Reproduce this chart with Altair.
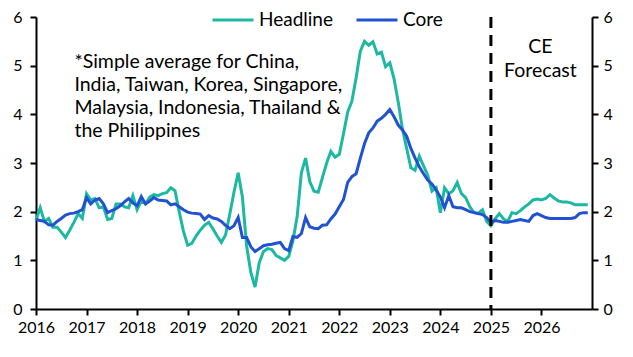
import altair as alt
import pandas as pd

headline = [1.82, 2.08, 1.80, 1.86, 1.68, 1.68, 1.58, 1.47, 1.62, 1.78, 1.96, 1.86,
            2.37, 2.24, 2.27, 2.08, 2.10, 1.84, 1.86, 2.16, 2.16, 2.10, 2.08, 2.33,
            2.04, 2.22, 2.16, 2.30, 2.35, 2.33, 2.37, 2.39, 2.49, 2.43, 2.00, 1.60,
            1.31, 1.35, 1.50, 1.62, 1.72, 1.78, 1.65, 1.50, 1.37, 1.52, 1.95, 2.40,
            2.80, 2.30, 1.30, 0.75, 0.45, 0.95, 1.18, 1.24, 1.22, 1.10, 1.05, 1.00,
            1.08, 1.40, 1.90, 2.80, 3.10, 2.62, 2.42, 2.40, 2.70, 3.00, 3.24, 3.12,
            3.18, 3.60, 4.05, 4.27, 4.75, 5.30, 5.50, 5.42, 5.49, 5.24, 5.28, 4.98,
            5.06, 4.73, 4.25, 3.70, 3.30, 2.90, 2.85, 3.14, 2.94, 2.75, 2.42, 2.49,
            1.98, 2.49, 2.37, 2.43, 2.60, 2.37, 2.29, 2.10, 1.98, 1.97, 2.04, 1.80,
            1.71, 1.85, 1.96, 1.85, 1.80, 1.98, 1.96, 2.02, 2.10, 2.16, 2.24, 2.26,
            2.24, 2.27, 2.35, 2.28, 2.22, 2.20, 2.20, 2.18, 2.14, 2.14, 2.14, 2.14]

core = [1.84, 1.82, 1.80, 1.73, 1.72, 1.80, 1.86, 1.93, 1.96, 1.97, 2.00, 2.04,
        2.29, 2.16, 2.24, 2.27, 2.16, 1.98, 2.02, 2.06, 2.12, 2.20, 2.27, 2.18,
        2.12, 2.31, 2.16, 2.22, 2.29, 2.24, 2.23, 2.22, 2.14, 2.16, 2.10, 2.04,
        1.99, 1.97, 1.96, 1.95, 1.84, 1.92, 1.87, 1.85, 1.80, 1.72, 1.65, 1.71,
        1.88, 1.47, 1.47, 1.28, 1.18, 1.24, 1.30, 1.32, 1.33, 1.35, 1.37, 1.24,
        1.20, 1.49, 1.47, 1.55, 1.88, 1.69, 1.66, 1.65, 1.72, 1.73, 1.85, 1.95,
        2.10, 2.25, 2.60, 2.72, 2.78, 3.10, 3.40, 3.62, 3.72, 3.86, 3.92, 4.00,
        4.10, 3.95, 3.78, 3.68, 3.55, 3.30, 3.10, 2.92, 2.78, 2.65, 2.57, 2.45,
        2.30, 2.08, 2.33, 2.10, 2.08, 2.08, 2.04, 2.00, 1.98, 1.96, 1.94, 1.88,
        1.78, 1.82, 1.80, 1.78, 1.78, 1.80, 1.82, 1.84, 1.82, 1.80, 1.92, 1.96,
        1.92, 1.88, 1.86, 1.86, 1.86, 1.86, 1.86, 1.86, 1.88, 1.96, 1.98, 1.98]

start_year = 2016
year_ticks = list(range(2016, 2027))
y_ticks = [0, 1, 2, 3, 4, 5, 6]
series_names = ["Headline", "Core"]
series_colors = ["#1db8a4", "#2152d1"]
forecast_start = 2025
note_lines = ["*Simple average for China,", "India, Taiwan, Korea, Singapore,",
              "Malaysia, Indonesia, Thailand &", "the Philippines"]
ce_lines = ["CE", "Forecast"]

FONT = "Lato, sans-serif"

rows = []
for i, v in enumerate(headline):
    rows.append({"t": start_year + i / 12, "v": v, "s": "Headline"})
for i, v in enumerate(core):
    rows.append({"t": start_year + i / 12, "v": v, "s": "Core"})
df = pd.DataFrame(rows)

xscale = alt.Scale(domain=[2016, 2027], nice=False, zero=False)
yscale = alt.Scale(domain=[0, 6], nice=False)

xaxis = alt.Axis(values=year_ticks, format="d", title=None, grid=False,
                 labelFontSize=16, labelFont=FONT, labelColor="black",
                 domainColor="black", domainWidth=2, tickColor="black",
                 tickWidth=2, tickSize=6, labelPadding=4, labelFlush=False)

lines = alt.Chart(df).mark_line(strokeWidth=3).encode(
    x=alt.X("t:Q", scale=xscale, axis=xaxis),
    y=alt.Y("v:Q", scale=yscale,
            axis=alt.Axis(values=y_ticks, title=None, grid=False, orient="left",
                          labelFontSize=16, labelFont=FONT, labelColor="black",
                          domainColor="black", domainWidth=2, tickColor="black",
                          tickWidth=2, tickSize=6, labelPadding=8)),
    color=alt.Color("s:N", scale=alt.Scale(domain=series_names, range=series_colors),
                    sort=series_names,
                    legend=alt.Legend(title=None, orient="none", direction="horizontal",
                                      legendX=175, legendY=-19, symbolType="stroke",
                                      symbolSize=1681, symbolStrokeWidth=3,
                                      labelFontSize=19, labelFont=FONT,
                                      labelColor="black", columnPadding=16,
                                      labelOffset=4, padding=0)),
    detail="s:N",
)

right_df = pd.DataFrame({"t": [2016.0], "v": [0.0]})
right_axis = alt.Chart(right_df).mark_point(opacity=0).encode(
    x=alt.X("t:Q", scale=xscale, axis=xaxis),
    y=alt.Y("v:Q", scale=yscale,
            axis=alt.Axis(values=y_ticks, title=None, grid=False, orient="right",
                          labelFontSize=16, labelFont=FONT, labelColor="black",
                          domainColor="black", domainWidth=2, tickColor="black",
                          tickWidth=2, tickSize=6, labelPadding=5)),
)

rule = alt.Chart(pd.DataFrame({"t": [forecast_start]})).mark_rule(
    color="black", strokeWidth=3, strokeDash=[11, 7]
).encode(x=alt.X("t:Q", scale=xscale))

note = alt.Chart(pd.DataFrame({"t": [2016.76], "v": [5.08], "txt": [note_lines]})).mark_text(
    align="left", baseline="middle", fontSize=19.5, font=FONT, lineHeight=23, color="black"
).encode(x=alt.X("t:Q", scale=xscale),
         y=alt.Y("v:Q", scale=yscale, axis=None), text="txt")

ce = alt.Chart(pd.DataFrame({"t": [2025.98], "v": [5.39], "txt": [ce_lines]})).mark_text(
    align="center", baseline="middle", fontSize=19.5, font=FONT, lineHeight=24, color="black"
).encode(x=alt.X("t:Q", scale=xscale),
         y=alt.Y("v:Q", scale=yscale, axis=None), text="txt")

chart = alt.layer(lines, note, ce, rule, right_axis).resolve_scale(
    y="independent"
).properties(
    width=556, height=292,
    autosize=alt.AutoSizeParams(type="none"),
    padding={"left": 28, "top": 9, "right": 25, "bottom": 30},
).configure_view(stroke=None)

chart.save("out.html", embed_options={"renderer": "svg", "actions": False})
